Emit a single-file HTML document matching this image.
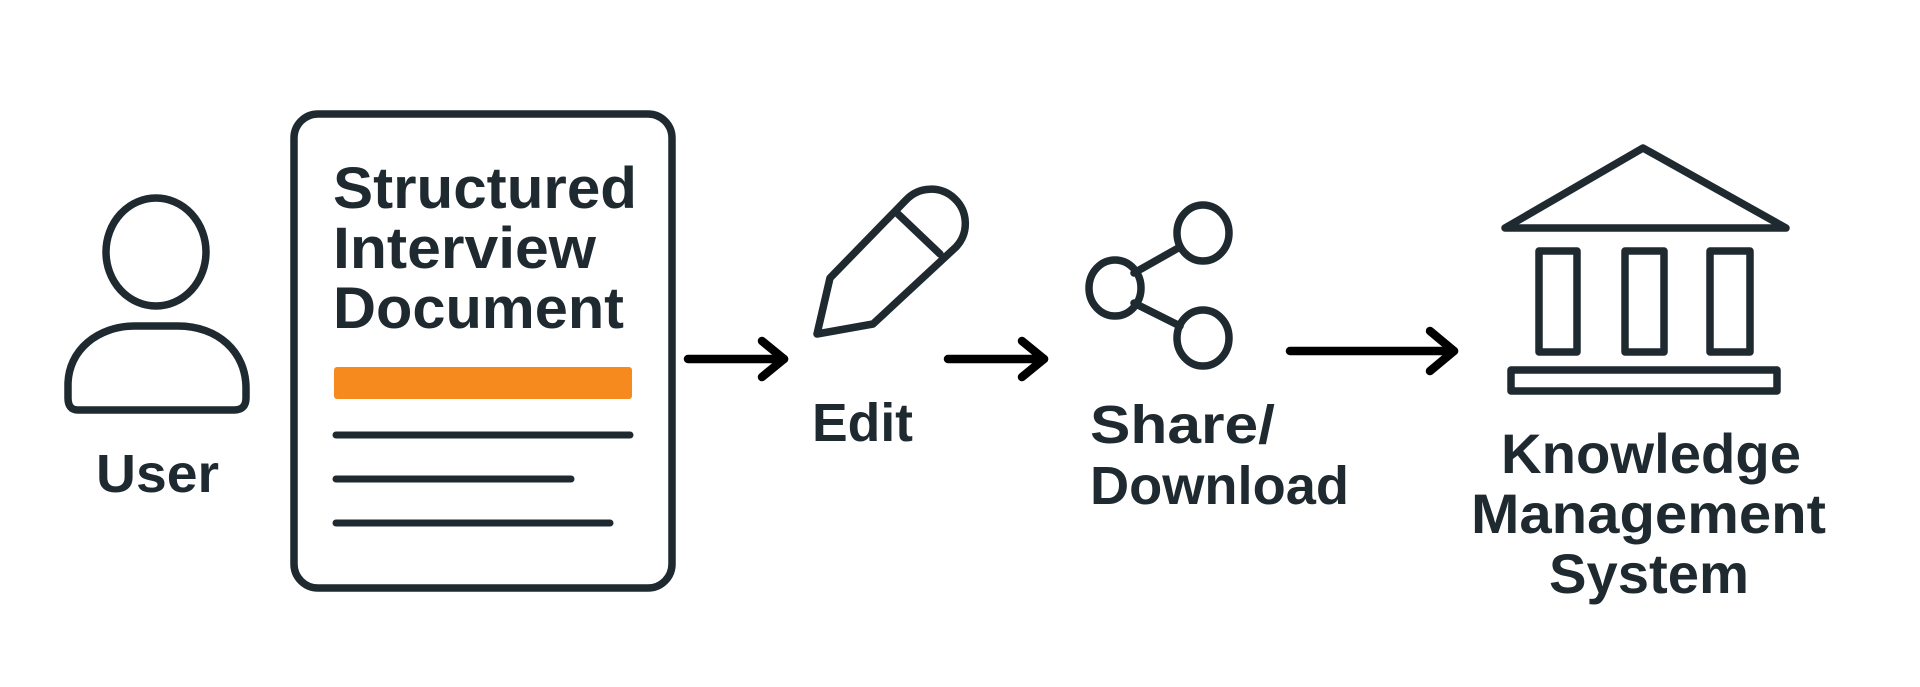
<!DOCTYPE html>
<html><head><meta charset="utf-8"><style>
html,body{margin:0;padding:0;background:#fff;}
svg{display:block;}
text{font-family:"Liberation Sans",sans-serif;font-weight:bold;fill:#1f2a30;}
</style></head><body>
<svg width="1920" height="687" viewBox="0 0 1920 687" xmlns="http://www.w3.org/2000/svg">
<g fill="none" stroke="#1f2a30" stroke-width="7.5" stroke-linejoin="round" stroke-linecap="round">
  <!-- user -->
  <ellipse cx="156" cy="252" rx="50" ry="54"/>
  <path d="M78,410 Q68,410 68,398 L68,385 C68,350 98,326 135,326 L178,326 C218,326 246,352 246,388 L246,398 Q246,410 234,410 Z"/>
  <!-- document -->
  <rect x="294" y="114" width="378" height="474" rx="24"/>
  <!-- pencil -->
  <path d="M830,278 L906,200 A28,28 0 0 1 956,247 L873,324 L817,334 Z"/>
  <line x1="898" y1="214" x2="940" y2="254"/>
  <!-- share -->
  <line x1="1134" y1="273" x2="1180" y2="247"/>
  <line x1="1134" y1="303" x2="1180" y2="326"/>
  <ellipse cx="1203" cy="233" rx="26" ry="28"/>
  <ellipse cx="1115" cy="288" rx="26" ry="28"/>
  <ellipse cx="1203" cy="338" rx="26" ry="28"/>
  <!-- building -->
  <path d="M1643,148 L1786,228 L1505,228 Z"/>
  <rect x="1539" y="251" width="38" height="101"/>
  <rect x="1625" y="251" width="39" height="101"/>
  <rect x="1710" y="251" width="40" height="101"/>
  <rect x="1511" y="370" width="266" height="21"/>
</g>
<!-- doc bars -->
<rect x="334" y="367" width="298" height="32" rx="3" fill="#f68a1f"/>
<g stroke="#1f2a30" stroke-width="7" stroke-linecap="round">
  <line x1="336" y1="435" x2="630" y2="435"/>
  <line x1="336" y1="479" x2="571" y2="479"/>
  <line x1="336" y1="523" x2="610" y2="523"/>
</g>
<!-- arrows -->
<g fill="none" stroke="#000" stroke-width="8.5" stroke-linecap="round" stroke-linejoin="round">
  <line x1="688" y1="359" x2="784" y2="359"/>
  <polyline points="762,341 784,359 762,377"/>
  <line x1="948" y1="359" x2="1044" y2="359"/>
  <polyline points="1022,341 1044,359 1022,377"/>
  <line x1="1290" y1="351" x2="1454" y2="351"/>
  <polyline points="1430,331 1454,351 1430,371"/>
</g>
<!-- text -->
<text x="96" y="492" font-size="54" textLength="123" lengthAdjust="spacingAndGlyphs">User</text>
<text x="333" y="208" font-size="58" textLength="304" lengthAdjust="spacingAndGlyphs">Structured</text>
<text x="333" y="268" font-size="58" textLength="263" lengthAdjust="spacingAndGlyphs">Interview</text>
<text x="333" y="328" font-size="58" textLength="291" lengthAdjust="spacingAndGlyphs">Document</text>
<text x="812" y="441" font-size="54" textLength="101" lengthAdjust="spacingAndGlyphs">Edit</text>
<text x="1090" y="443" font-size="54" textLength="185" lengthAdjust="spacingAndGlyphs">Share/</text>
<text x="1090" y="504" font-size="54" textLength="259" lengthAdjust="spacingAndGlyphs">Download</text>
<text x="1501" y="473" font-size="56" textLength="300" lengthAdjust="spacingAndGlyphs">Knowledge</text>
<text x="1471" y="533" font-size="56" textLength="355" lengthAdjust="spacingAndGlyphs">Management</text>
<text x="1549" y="593" font-size="56" textLength="200" lengthAdjust="spacingAndGlyphs">System</text>
</svg>
</body></html>
